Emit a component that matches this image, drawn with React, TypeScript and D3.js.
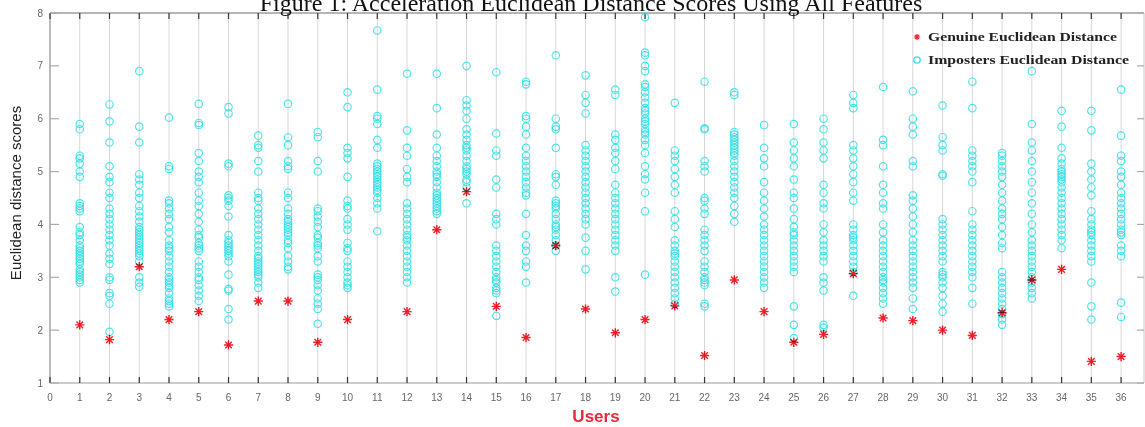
import React from "react";
import * as d3 from "d3";

const users: number[] = d3.range(1, 37);
const xTicks: number[] = d3.range(0, 37);
const yTicks: number[] = [1, 2, 3, 4, 5, 6, 7, 8];

const genuine: (number | null)[] = [
  2.1, 1.82, 3.2, 2.2, 2.35, 1.72, 2.55, 2.55, 1.77, 2.2, null, 2.35, 3.9, 4.62, 2.45, 1.86,
  3.6, 2.4, 1.95, 2.2, 2.46, 1.52, 2.95, 2.35, 1.77, 1.92, 3.07, 2.23, 2.18, 2.0, 1.9, 2.33,
  2.95, 3.15, 1.41, 1.5,
];

const imposters: number[][] = [
  [5.9, 5.8, 5.3, 5.25, 5.15, 5.0, 4.9, 4.4, 4.35, 4.3, 4.25, 3.95, 3.85, 3.8, 3.7, 3.6, 3.55, 3.5, 3.45, 3.4, 3.35, 3.3, 3.25, 3.15, 3.1, 3.05, 3.0, 2.95, 2.9],
  [6.27, 5.95, 5.55, 5.1, 4.9, 4.8, 4.6, 4.5, 4.3, 4.2, 4.1, 4.0, 3.9, 3.8, 3.7, 3.6, 3.45, 3.35, 3.25, 3.0, 2.95, 2.7, 2.65, 2.5, 1.97],
  [6.9, 5.85, 5.55, 4.95, 4.85, 4.75, 4.6, 4.5, 4.35, 4.25, 4.15, 4.05, 3.95, 3.9, 3.85, 3.8, 3.75, 3.7, 3.65, 3.6, 3.55, 3.5, 3.45, 3.4, 3.3, 3.0, 2.9, 2.82],
  [6.02, 5.1, 5.05, 4.45, 4.4, 4.3, 4.2, 4.1, 3.95, 3.85, 3.7, 3.6, 3.55, 3.5, 3.4, 3.3, 3.2, 3.1, 3.0, 2.95, 2.9, 2.85, 2.8, 2.7, 2.6, 2.55, 2.5, 2.45],
  [6.28, 5.92, 5.88, 5.35, 5.2, 5.0, 4.9, 4.8, 4.6, 4.45, 4.35, 4.2, 4.05, 3.9, 3.8, 3.75, 3.65, 3.6, 3.55, 3.5, 3.3, 3.2, 3.1, 3.0, 2.95, 2.85, 2.75, 2.65, 2.55],
  [6.22, 6.1, 5.15, 5.1, 4.55, 4.5, 4.45, 4.35, 4.15, 3.8, 3.7, 3.65, 3.6, 3.55, 3.5, 3.45, 3.4, 3.3, 3.05, 2.78, 2.75, 2.4, 2.2],
  [5.68, 5.5, 5.45, 5.2, 5.0, 4.6, 4.5, 4.45, 4.3, 4.2, 4.1, 4.0, 3.9, 3.8, 3.7, 3.6, 3.5, 3.4, 3.35, 3.3, 3.25, 3.2, 3.15, 3.1, 3.05, 3.0, 2.9, 2.8],
  [6.28, 5.65, 5.5, 5.2, 5.1, 5.05, 4.6, 4.5, 4.3, 4.2, 4.1, 4.05, 4.0, 3.95, 3.9, 3.85, 3.8, 3.7, 3.65, 3.55, 3.4, 3.3, 3.2, 3.15],
  [5.75, 5.65, 5.2, 5.0, 4.3, 4.25, 4.15, 4.05, 3.95, 3.8, 3.75, 3.65, 3.6, 3.55, 3.4, 3.3, 3.05, 3.0, 2.95, 2.85, 2.75, 2.6, 2.5, 2.4, 2.12],
  [6.5, 6.22, 5.45, 5.35, 5.25, 4.9, 4.45, 4.35, 4.3, 4.1, 4.0, 3.9, 3.65, 3.55, 3.5, 3.3, 3.2, 3.1, 3.0, 2.9, 2.85, 2.8],
  [7.67, 6.55, 6.05, 6.0, 5.9, 5.6, 5.45, 5.15, 5.1, 5.05, 5.0, 4.95, 4.9, 4.85, 4.8, 4.75, 4.7, 4.65, 4.6, 4.5, 4.4, 4.3, 3.87],
  [6.85, 5.78, 5.45, 5.3, 5.05, 4.9, 4.8, 4.4, 4.3, 4.2, 4.1, 4.0, 3.9, 3.8, 3.75, 3.7, 3.6, 3.5, 3.4, 3.3, 3.2, 3.1, 3.0, 2.9],
  [6.85, 6.2, 5.7, 5.45, 5.3, 5.2, 5.1, 5.0, 4.95, 4.9, 4.8, 4.7, 4.6, 4.55, 4.5, 4.45, 4.4, 4.35, 4.3, 4.25, 4.2],
  [7.0, 6.35, 6.25, 6.15, 6.0, 5.8, 5.7, 5.6, 5.5, 5.45, 5.4, 5.3, 5.2, 5.1, 5.05, 5.0, 4.95, 4.85, 4.8, 4.7, 4.4],
  [6.88, 5.72, 5.4, 5.3, 4.85, 4.7, 4.2, 4.1, 4.0, 3.6, 3.5, 3.4, 3.3, 3.2, 3.1, 3.0, 2.95, 2.9, 2.8, 2.75, 2.7, 2.27],
  [6.7, 6.65, 6.05, 6.0, 5.85, 5.7, 5.45, 5.3, 5.2, 5.1, 5.0, 4.9, 4.8, 4.7, 4.6, 4.55, 4.2, 3.8, 3.6, 3.5, 3.3, 3.2, 2.9],
  [7.2, 6.0, 5.85, 5.8, 5.45, 4.95, 4.9, 4.75, 4.45, 4.4, 4.35, 4.3, 4.2, 4.1, 4.0, 3.95, 3.9, 3.8, 3.7, 3.6, 3.5],
  [6.82, 6.45, 6.3, 6.1, 5.5, 5.4, 5.3, 5.2, 5.1, 5.0, 4.9, 4.8, 4.7, 4.6, 4.5, 4.4, 4.3, 4.2, 4.1, 4.0, 3.75, 3.5, 3.15],
  [6.55, 6.45, 5.7, 5.6, 5.45, 5.35, 5.2, 5.05, 4.75, 4.6, 4.5, 4.4, 4.3, 4.2, 4.1, 4.0, 3.9, 3.8, 3.7, 3.6, 3.5, 3.0, 2.73],
  [7.92, 7.25, 7.2, 7.0, 6.9, 6.65, 6.6, 6.5, 6.4, 6.3, 6.2, 6.15, 6.1, 6.0, 5.95, 5.9, 5.8, 5.75, 5.7, 5.6, 5.5, 5.35, 5.1, 4.95, 4.85, 4.6, 4.25, 3.05],
  [6.3, 5.4, 5.3, 5.2, 5.05, 4.9, 4.75, 4.6, 4.25, 4.1, 3.95, 3.7, 3.6, 3.5, 3.45, 3.4, 3.3, 3.2, 3.1, 3.0, 2.9, 2.8, 2.7, 2.6, 2.5],
  [6.7, 5.82, 5.8, 5.2, 5.1, 5.0, 4.5, 4.45, 4.3, 4.2, 3.9, 3.8, 3.7, 3.6, 3.5, 3.3, 3.2, 3.1, 3.0, 2.95, 2.9, 2.85, 2.5, 2.45],
  [6.5, 6.45, 5.75, 5.7, 5.65, 5.6, 5.55, 5.5, 5.45, 5.4, 5.35, 5.3, 5.2, 5.1, 5.0, 4.9, 4.8, 4.7, 4.6, 4.5, 4.35, 4.2, 4.05],
  [5.88, 5.45, 5.25, 5.1, 4.8, 4.6, 4.45, 4.3, 4.15, 4.0, 3.9, 3.8, 3.7, 3.6, 3.5, 3.4, 3.3, 3.2, 3.1, 3.0, 2.9, 2.8],
  [5.9, 5.55, 5.4, 5.25, 5.1, 4.85, 4.6, 4.5, 4.3, 4.1, 3.95, 3.85, 3.8, 3.7, 3.6, 3.5, 3.4, 3.3, 3.2, 3.1, 2.45, 2.1, 1.85],
  [6.0, 5.8, 5.55, 5.4, 5.25, 4.75, 4.6, 4.4, 4.3, 4.0, 3.85, 3.7, 3.6, 3.5, 3.4, 3.3, 3.0, 2.9, 2.75, 2.1, 2.05],
  [6.45, 6.3, 6.2, 5.5, 5.4, 5.25, 5.1, 4.95, 4.8, 4.6, 4.45, 4.0, 3.9, 3.8, 3.75, 3.7, 3.6, 3.5, 3.4, 3.3, 3.2, 3.1, 2.65],
  [6.6, 5.6, 5.5, 5.1, 4.75, 4.6, 4.4, 4.3, 4.0, 3.85, 3.7, 3.6, 3.5, 3.4, 3.3, 3.2, 3.1, 3.0, 2.95, 2.9, 2.8, 2.7, 2.6, 2.5],
  [6.52, 6.0, 5.85, 5.7, 5.2, 5.1, 4.55, 4.45, 4.3, 4.15, 4.0, 3.85, 3.7, 3.6, 3.5, 3.4, 3.3, 3.2, 3.1, 3.0, 2.9, 2.8, 2.6, 2.4],
  [6.25, 5.65, 5.5, 5.4, 4.95, 4.92, 4.1, 4.0, 3.9, 3.8, 3.7, 3.6, 3.5, 3.4, 3.3, 3.1, 3.05, 3.0, 2.9, 2.8, 2.65, 2.5, 2.35],
  [6.7, 6.2, 5.4, 5.3, 5.2, 5.1, 5.0, 4.8, 4.25, 4.0, 3.9, 3.8, 3.7, 3.6, 3.5, 3.4, 3.3, 3.2, 3.1, 3.0, 2.8, 2.5],
  [5.35, 5.3, 5.2, 5.1, 5.0, 4.9, 4.75, 4.6, 4.45, 4.3, 4.2, 4.1, 3.95, 3.8, 3.65, 3.55, 3.1, 3.0, 2.9, 2.8, 2.7, 2.6, 2.5, 2.4, 2.3, 2.2, 2.1],
  [6.9, 5.9, 5.55, 5.4, 5.2, 5.0, 4.8, 4.6, 4.4, 4.2, 4.0, 3.85, 3.7, 3.6, 3.5, 3.4, 3.3, 3.2, 3.1, 3.0, 2.9, 2.8, 2.7, 2.6],
  [6.15, 5.85, 5.45, 5.25, 5.15, 5.05, 5.0, 4.95, 4.9, 4.85, 4.8, 4.7, 4.6, 4.5, 4.4, 4.3, 4.2, 4.1, 4.0, 3.9, 3.8, 3.7, 3.55],
  [6.15, 5.78, 5.15, 5.0, 4.85, 4.7, 4.55, 4.25, 4.1, 4.0, 3.9, 3.85, 3.8, 3.7, 3.6, 3.5, 3.4, 3.3, 2.9, 2.45, 2.2],
  [6.55, 5.68, 5.3, 5.2, 5.0, 4.9, 4.75, 4.6, 4.5, 4.4, 4.3, 4.2, 4.1, 4.0, 3.9, 3.85, 3.8, 3.6, 3.5, 3.4, 2.52, 2.25],
];

const W = 1145;
const H = 427;
const left = 50;
const right = 1144;
const top = 13;
const bottom = 383;

const CYAN = "#2ee0e6";
const RED = "#ff1f2a";

function starPath(cx: number, cy: number, s: number): string {
  const d = s * 0.72;
  return `M${cx - s},${cy}L${cx + s},${cy}M${cx},${cy - s}L${cx},${cy + s}M${cx - d},${cy - d}L${cx + d},${cy + d}M${cx - d},${cy + d}L${cx + d},${cy - d}`;
}

export default function App() {
  const x = d3.scaleLinear().domain([0, 36.77]).range([left, right]);
  const y = d3.scaleLinear().domain([1, 8]).range([bottom, top]);

  const points: { u: number; v: number }[] = [];
  users.forEach((u, i) => imposters[i].forEach((v) => points.push({ u, v })));

  return (
    <svg
      width={W}
      height={H}
      style={{ position: "absolute", left: 0, top: 0, background: "#fff" }}
      fontFamily="'Liberation Sans', Arial, sans-serif"
    >
      {/* vertical grid */}
      {xTicks.map((t) => (
        <line key={"g" + t} x1={x(t)} x2={x(t)} y1={top} y2={bottom} stroke="#d6d6d6" strokeWidth={1} />
      ))}
      {/* axes box */}
      <line x1={left} x2={right} y1={top} y2={top} stroke="#b5b5b5" strokeWidth={2} />
      <line x1={left} x2={right} y1={bottom} y2={bottom} stroke="#9a9a9a" strokeWidth={1.2} />
      <line x1={left} x2={left} y1={top} y2={bottom} stroke="#9a9a9a" strokeWidth={1.2} />
      <line x1={right} x2={right} y1={top} y2={bottom} stroke="#c8c8c8" strokeWidth={1} />
      {/* x ticks */}
      {xTicks.map((t) => (
        <g key={"xt" + t}>
          <line x1={x(t)} x2={x(t)} y1={bottom} y2={bottom - 6} stroke="#333" strokeWidth={1.2} />
          <line x1={x(t)} x2={x(t)} y1={top} y2={top + 6} stroke="#333" strokeWidth={1.2} />
          <text x={x(t)} y={401} textAnchor="middle" fontSize={10} fill="#666">
            {t}
          </text>
        </g>
      ))}
      {/* y ticks */}
      {yTicks.map((t) => (
        <g key={"yt" + t}>
          <line x1={left} x2={left + 9} y1={y(t)} y2={y(t)} stroke="#aaa" strokeWidth={1.2} />
          <line x1={right - 7} x2={right} y1={y(t)} y2={y(t)} stroke="#aaa" strokeWidth={1.2} />
          <text x={43} y={y(t) + 3.5} textAnchor="end" fontSize={10} fill="#666">
            {t}
          </text>
        </g>
      ))}
      {/* imposters */}
      <g fill="none" stroke={CYAN} strokeWidth={1.2} strokeOpacity={0.85}>
        {points.map((p, i) => (
          <circle key={"c" + i} cx={x(p.u)} cy={y(p.v)} r={3.7} />
        ))}
      </g>
      {/* genuine */}
      <g stroke={RED} strokeWidth={1.4} style={{ mixBlendMode: "multiply" }}>
        {users.map((u, i) =>
          genuine[i] == null ? null : <path key={"s" + u} d={starPath(x(u), y(genuine[i] as number), 4.6)} />
        )}
      </g>
      {/* legend */}
      <path d={starPath(917, 37, 3)} stroke={RED} strokeWidth={1.2} />
      <text
        x={928}
        y={41}
        fontFamily="'Liberation Serif', 'Times New Roman', serif"
        fontWeight="bold"
        fontSize={11.5}
        fill="#222"
        textLength={189}
        lengthAdjust="spacingAndGlyphs"
      >
        Genuine Euclidean Distance
      </text>
      <circle cx={917} cy={60} r={3.2} fill="none" stroke={CYAN} strokeWidth={1.3} />
      <text
        x={928}
        y={64}
        fontFamily="'Liberation Serif', 'Times New Roman', serif"
        fontWeight="bold"
        fontSize={11.5}
        fill="#222"
        textLength={201}
        lengthAdjust="spacingAndGlyphs"
      >
        Imposters Euclidean Distance
      </text>
      {/* title */}
      <text
        x={591}
        y={11}
        textAnchor="middle"
        fontFamily="'Liberation Serif', 'Times New Roman', serif"
        fontSize={24}
        fill="#111"
      >
        Figure 1: Acceleration Euclidean Distance Scores Using All Features
      </text>
      {/* axis labels */}
      <text
        transform="translate(21,193) rotate(-90)"
        textAnchor="middle"
        fontSize={15}
        fill="#222"
      >
        Euclidean distance scores
      </text>
      <text x={596} y={422} textAnchor="middle" fontSize={17} fontWeight="bold" fill="#e8283f">
        Users
      </text>
    </svg>
  );
}
